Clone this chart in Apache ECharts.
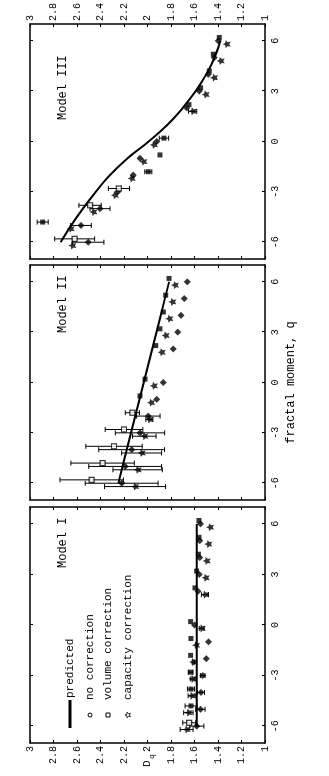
<!DOCTYPE html>
<html>
<head>
<meta charset="utf-8">
<script src="https://cdn.jsdelivr.net/npm/echarts@6/dist/echarts.min.js"></script>
<style>
  html, body { margin: 0; padding: 0; overflow: hidden; background: #fff; width: 329px; height: 776px; }
  /* the figure is drawn landscape and turned a quarter turn, like the scan */
  #wrap { position: absolute; left: 0; top: 776px; width: 776px; height: 329px; transform-origin: 0 0; transform: rotate(-90deg); }
  #main { width: 776px; height: 329px; }
</style>
</head>
<body>
<div id="wrap"><div id="main"></div></div>
<script>
  // fractal moments (markers are offset slightly in q so they do not overlap)
  const qLine = [-6, -5, -4, -3, -2, -1, 0, 1, 2, 3, 4, 5, 6]
  const qNone = [-6, -5, -4, -3, -2, -1, 0, 2, 3, 4, 5, 6]
  const qVolume = [-5.8, -4.8, -3.8, -2.8, -1.8, -0.8, 0.2, 2.2, 3.2, 4.2, 5.2, 6.2]
  const qCapacity = [-6.2, -5.2, -4.2, -3.2, -2.2, -1.2, -0.2, 1.8, 2.8, 3.8, 4.8, 5.8]
  const qTicks = [-6, -3, 0, 3, 6]
  const modelNames = ['Model I', 'Model II', 'Model III']
  const legendNames = ['predicted', 'no correction', 'volume correction', 'capacity correction']

  // Model I
  const predictedI = [1.58, 1.58, 1.58, 1.58, 1.58, 1.58, 1.58, 1.58, 1.58, 1.58, 1.58, 1.58, 1.58]
  const noCorrI = [1.58, 1.55, 1.545, 1.53, 1.50, 1.48, 1.60, 1.57, 1.56, 1.555, 1.555, 1.55]
  const noCorrErrI = [0.06, 0.04, 0.03, 0.02, 0, 0, 0, 0, 0, 0, 0, 0]
  const volumeI = [1.645, 1.63, 1.63, 1.633, 1.633, 1.63, 1.633, 1.596, 1.582, 1.567, 1.562, 1.562]
  const volumeErrI = [0.055, 0.05, 0.03, 0.02, 0, 0, 0, 0, 0, 0, 0, 0]
  const capacityI = [1.667, 1.652, 1.624, 1.616, 1.61, 1.587, 1.539, 1.511, 1.505, 1.496, 1.482, 1.468]
  const capacityErrI = [0.055, 0.04, 0.03, 0.02, 0.01, 0, 0.02, 0.03, 0, 0, 0, 0]

  // Model II
  const predictedII = [2.248, 2.212, 2.176, 2.14, 2.104, 2.068, 2.032, 1.996, 1.96, 1.924, 1.888, 1.852, 1.816]
  const noCorrII = [2.22, 2.19, 2.135, 2.064, 1.993, 1.922, 1.865, 1.78, 1.743, 1.715, 1.687, 1.661]
  const noCorrErrII = [0.31, 0.31, 0.28, 0.21, 0.10, 0, 0, 0, 0, 0, 0, 0]
  const volumeII = [2.475, 2.382, 2.285, 2.20, 2.129, 2.064, 2.021, 1.93, 1.894, 1.865, 1.845, 1.817]
  const volumeErrII = [0.27, 0.27, 0.24, 0.16, 0.06, 0, 0, 0, 0, 0, 0, 0]
  const capacityII = [2.106, 2.084, 2.05, 2.027, 1.984, 1.97, 1.945, 1.879, 1.845, 1.814, 1.789, 1.766]
  const capacityErrII = [0.26, 0.21, 0.17, 0.10, 0.03, 0, 0, 0, 0, 0, 0, 0]

  // Model III
  const predictedIII = [2.74, 2.65, 2.55, 2.44, 2.32, 2.17, 1.99, 1.83, 1.70, 1.59, 1.50, 1.43, 1.38]
  const noCorrIII = [2.504, 2.566, 2.404, 2.254, 2.121, 2.064, 1.922, 1.667, 1.559, 1.482, 1.431, 1.397]
  const noCorrErrIII = [0.133, 0.088, 0.085, 0, 0, 0, 0, 0, 0, 0, 0, 0]
  const volumeIII = [2.62, 2.892, 2.489, 2.243, 1.993, 1.894, 1.86, 1.647, 1.548, 1.474, 1.44, 1.389]
  const volumeErrIII = [0.17, 0.047, 0.095, 0.09, 0.03, 0, 0.04, 0, 0, 0, 0, 0]
  const capacityIII = [2.64, 2.654, 2.46, 2.277, 2.135, 2.035, 1.945, 1.616, 1.505, 1.434, 1.377, 1.326]
  const capacityErrIII = [0, 0, 0, 0, 0, 0, 0, 0.035, 0, 0, 0, 0]

  const models = [
    { pred: predictedI, none: noCorrI, noneErr: noCorrErrI, vol: volumeI, volErr: volumeErrI, cap: capacityI, capErr: capacityErrI },
    { pred: predictedII, none: noCorrII, noneErr: noCorrErrII, vol: volumeII, volErr: volumeErrII, cap: capacityII, capErr: capacityErrII },
    { pred: predictedIII, none: noCorrIII, noneErr: noCorrErrIII, vol: volumeIII, volErr: volumeErrIII, cap: capacityIII, capErr: capacityErrIII }
  ]

  const mono = '"Liberation Mono", "DejaVu Sans Mono", monospace'
  const star = 'path://M0,-10L2.9,-4L9.5,-3.1L4.7,1.5L5.9,8.1L0,5L-5.9,8.1L-4.7,1.5L-9.5,-3.1L-2.9,-4Z'
  const grids = [
    { left: 33, top: 30, width: 236, height: 235 },
    { left: 276, top: 30, width: 235, height: 235 },
    { left: 517, top: 30, width: 237, height: 235 }
  ]

  function pairs(qs, vals) {
    return qs.map((q, k) => [q, vals[k]])
  }

  function errData(qs, vals, errs) {
    return qs.map((q, k) => [q, vals[k], errs[k]]).filter(d => d[2] > 0)
  }

  function renderErr(params, api) {
    const q = api.value(0)
    const d = api.value(1)
    const e = api.value(2)
    const lo = api.coord([q, d - e])
    const hi = api.coord([q, d + e])
    const cap = 2.5
    const style = { stroke: '#000', lineWidth: 1 }
    return {
      type: 'group',
      children: [
        { type: 'line', shape: { x1: lo[0], y1: lo[1], x2: hi[0], y2: hi[1] }, style },
        { type: 'line', shape: { x1: lo[0] - cap, y1: lo[1], x2: lo[0] + cap, y2: lo[1] }, style },
        { type: 'line', shape: { x1: hi[0] - cap, y1: hi[1], x2: hi[0] + cap, y2: hi[1] }, style }
      ]
    }
  }

  // small star outline for the legend entry
  function starPoints(cx, cy, r) {
    const pts = []
    for (let k = 0; k < 10; k++) {
      const a = -Math.PI / 2 + k * Math.PI / 5
      const rr = k % 2 ? r * 0.45 : r
      pts.push([cx + rr * Math.cos(a), cy + rr * Math.sin(a)])
    }
    return pts
  }

  const xAxis = []
  const yAxis = []
  const series = []
  const graphic = []

  models.forEach((m, i) => {
    const line = { onZero: false, lineStyle: { color: '#000', width: 1.5 } }
    const tick = { inside: true, length: 3, lineStyle: { color: '#000', width: 1 } }
    xAxis.push({
      gridIndex: i, type: 'value', min: -7, max: 7, position: 'bottom',
      axisLine: line,
      axisTick: Object.assign({ customValues: qTicks }, tick),
      axisLabel: { customValues: qTicks, fontFamily: mono, fontSize: 10, color: '#000', margin: 5 },
      splitLine: { show: false },
      name: i === 1 ? 'fractal moment, q' : '',
      nameLocation: 'middle', nameGap: 19,
      nameTextStyle: { fontFamily: mono, fontSize: 12, color: '#000' }
    })
    xAxis.push({
      gridIndex: i, type: 'value', min: -7, max: 7, position: 'top',
      axisLine: line,
      axisTick: Object.assign({ customValues: qTicks }, tick),
      axisLabel: { show: false },
      splitLine: { show: false }
    })
    yAxis.push({
      gridIndex: i, type: 'value', min: 1, max: 3, interval: 0.2, position: 'left',
      axisLine: line, axisTick: tick,
      axisLabel: { show: i === 0, fontFamily: mono, fontSize: 10, color: '#000', margin: 3 },
      splitLine: { show: false }
    })
    yAxis.push({
      gridIndex: i, type: 'value', min: 1, max: 3, interval: 0.2, position: 'right',
      axisLine: line, axisTick: tick,
      axisLabel: { show: i === 2, fontFamily: mono, fontSize: 10, color: '#000', margin: 3 },
      splitLine: { show: false }
    })

    const ax = { xAxisIndex: 2 * i, yAxisIndex: 2 * i }
    series.push(Object.assign({
      name: legendNames[0], type: 'line', data: pairs(qLine, m.pred),
      showSymbol: false, smooth: i === 2, lineStyle: { color: '#000', width: 2 }, z: 2
    }, ax))
    ;[[qNone, m.none, m.noneErr], [qVolume, m.vol, m.volErr], [qCapacity, m.cap, m.capErr]].forEach(s => {
      series.push(Object.assign({
        type: 'custom', renderItem: renderErr, data: errData(s[0], s[1], s[2]),
        encode: { x: 0, y: 1 }, z: 3, silent: true
      }, ax))
    })
    series.push(Object.assign({
      name: legendNames[1], type: 'scatter', symbol: 'diamond', symbolSize: 7,
      data: pairs(qNone, m.none), itemStyle: { color: '#000' }, z: 4
    }, ax))
    series.push(Object.assign({
      name: legendNames[2], type: 'scatter', symbol: 'rect', symbolSize: 5,
      // squares carrying a wide error bar are drawn open, as in the figure
      data: qVolume.map((q, k) => m.volErr[k] > 0.05
        ? { value: [q, m.vol[k]], itemStyle: { color: '#fff', borderColor: '#000', borderWidth: 1.2 } }
        : [q, m.vol[k]]),
      itemStyle: { color: '#000' }, z: 4
    }, ax))
    series.push(Object.assign({
      name: legendNames[3], type: 'scatter', symbol: star, symbolSize: 8,
      data: pairs(qCapacity, m.cap), itemStyle: { color: '#000' }, z: 4
    }, ax))
  })

  // panel titles
  const titleX = [208, 443, 656]
  modelNames.forEach((t, i) => {
    graphic.push({ type: 'text', x: titleX[i], y: 63, style: { text: t, font: '12px ' + mono, fill: '#000', verticalAlign: 'middle' } })
  })

  // D_q axis name
  graphic.push({ type: 'text', x: 9, y: 147, style: { text: 'D', font: '11px ' + mono, fill: '#000', verticalAlign: 'middle' } })
  graphic.push({ type: 'text', x: 17, y: 152, style: { text: 'q', font: '8px ' + mono, fill: '#000', verticalAlign: 'middle' } })

  // legend inside Model I
  const rowY = [70, 90, 108, 128]
  graphic.push({ type: 'line', shape: { x1: 48, y1: rowY[0], x2: 76, y2: rowY[0] }, style: { stroke: '#000', lineWidth: 3 } })
  graphic.push({ type: 'circle', shape: { cx: 61, cy: rowY[1], r: 2 }, style: { stroke: '#000', fill: '#fff', lineWidth: 1 } })
  graphic.push({ type: 'rect', shape: { x: 59, y: rowY[2] - 2, width: 4, height: 4 }, style: { stroke: '#000', fill: '#fff', lineWidth: 1 } })
  graphic.push({ type: 'polygon', shape: { points: starPoints(61, rowY[3], 3) }, style: { stroke: '#000', fill: '#fff', lineWidth: 0.8 } })
  legendNames.forEach((t, k) => {
    graphic.push({ type: 'text', x: k === 0 ? 78 : 76, y: rowY[k], style: { text: t, font: '11px ' + mono, fill: '#000', verticalAlign: 'middle' } })
  })

  const chart = echarts.init(document.getElementById('main'))
  chart.setOption({
    animation: false,
    backgroundColor: '#fff',
    grid: grids,
    xAxis: xAxis,
    yAxis: yAxis,
    series: series,
    graphic: graphic
  })
</script>
</body>
</html>
